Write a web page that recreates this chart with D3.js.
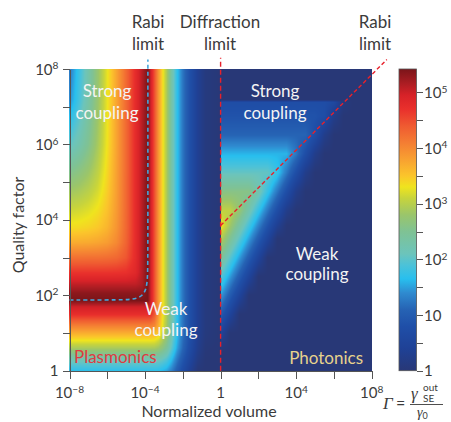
<!DOCTYPE html>
<meta charset="utf-8">
<title>Emission enhancement vs. mode volume and quality factor</title>
<script src="https://d3js.org/d3.v7.min.js"></script>
<style>
body { margin: 0; background: #fff; font-family: Lato, sans-serif; }
svg text { fill: #3b3b3b; }
.axis path, .axis line { stroke: #555; stroke-width: 1; shape-rendering: crispEdges; }
.lbl { font-size: 17px; }
.white { fill: #f4f4f4 !important; }
.tick-lbl { font-size: 15px; }
</style>
<body>
<svg id="vis" width="451" height="422"></svg>
<script>

// ---- data: log10(Gamma) ----
// plasmonic side (V < 1): columns = log10 V, rows = log10 Q
var plasV = [-8, -7.5, -7, -6.5, -6, -5.5, -5, -4.5, -4.15, -3.85, -3.7, -3.5, -3.3, -3.1, -2.85, -2.6, -2.3, -2, -1.6, -1.2, -0.8, 0];
var plasQ = [0, 0.3, 0.6, 0.9, 1.2, 1.5, 1.7, 1.86, 2.05, 2.3, 2.6, 3.0, 3.4, 3.8, 4.3, 4.8, 5.4, 6.0, 6.6, 7.2, 8];
var plasG = [
  [1.70,1.70,1.70,1.70,1.70,1.70,1.70,1.70,1.70,1.70, 1.70,1.70,1.68,1.62,1.52,1.32,1.00,0.71,0.35,0.02,0,0],
  [2.20,2.20,2.20,2.20,2.20,2.20,2.20,2.20,2.20,2.20, 2.20,2.19,2.16,2.09,1.94,1.66,1.26,0.92,0.52,0.16,0,0],
  [2.90,2.90,2.90,2.90,2.90,2.90,2.90,2.90,2.90,2.90, 2.90,2.89,2.82,2.68,2.44,2.03,1.52,1.12,0.67,0.27,0.03,0],
  [3.50,3.50,3.50,3.50,3.50,3.50,3.50,3.50,3.50,3.50, 3.50,3.47,3.34,3.09,2.73,2.21,1.64,1.20,0.74,0.32,0.08,0],
  [4.10,4.10,4.10,4.10,4.10,4.10,4.10,4.10,4.10,4.10, 4.10,4.02,3.73,3.33,2.87,2.30,1.69,1.24,0.77,0.35,0.10,0],
  [4.75,4.75,4.75,4.75,4.75,4.75,4.75,4.75,4.75,4.75, 4.73,4.42,3.91,3.41,2.92,2.32,1.70,1.25,0.77,0.35,0.10,0],
  [5.00,5.00,5.00,5.00,5.00,5.00,5.00,5.00,5.00,5.00, 4.92,4.46,3.92,3.42,2.92,2.32,1.70,1.25,0.77,0.35,0.10,0],
  [5.42,5.42,5.42,5.42,5.42,5.42,5.42,5.42,5.42,5.42, 5.00,4.47,3.92,3.42,2.92,2.32,1.70,1.25,0.77,0.35,0.10,0],
  [5.33,5.33,5.33,5.33,5.33,5.33,5.33,5.33,5.33,5.42, 5.00,4.47,3.92,3.42,2.92,2.32,1.70,1.25,0.77,0.35,0.10,0],
  [5.05,5.05,5.05,5.05,5.05,5.05,5.05,5.06,5.15,5.42, 5.00,4.47,3.92,3.42,2.92,2.32,1.70,1.25,0.77,0.35,0.10,0],
  [4.68,4.68,4.68,4.68,4.68,4.69,4.71,4.84,5.12,5.42, 5.00,4.47,3.92,3.42,2.92,2.32,1.70,1.25,0.77,0.35,0.10,0],
  [4.20,4.20,4.21,4.21,4.23,4.28,4.43,4.78,5.12,5.42, 5.00,4.47,3.92,3.42,2.92,2.32,1.70,1.25,0.77,0.35,0.10,0],
  [3.70,3.71,3.72,3.76,3.83,4.00,4.32,4.77,5.12,5.42, 5.00,4.47,3.92,3.42,2.92,2.32,1.70,1.25,0.77,0.35,0.10,0],
  [3.35,3.37,3.41,3.48,3.63,3.90,4.29,4.77,5.12,5.42, 5.00,4.47,3.92,3.42,2.92,2.32,1.70,1.25,0.77,0.35,0.10,0],
  [3.09,3.13,3.20,3.32,3.52,3.85,4.28,4.77,5.12,5.42, 5.00,4.47,3.92,3.42,2.92,2.32,1.70,1.25,0.77,0.35,0.10,0],
  [2.82,2.88,2.99,3.16,3.44,3.82,4.28,4.77,5.12,5.42, 5.00,4.47,3.92,3.42,2.92,2.32,1.70,1.25,0.77,0.35,0.10,0],
  [2.45,2.57,2.75,3.01,3.37,3.80,4.27,4.77,5.12,5.42, 5.00,4.47,3.92,3.42,2.92,2.32,1.70,1.25,0.77,0.35,0.10,0],
  [2.01,2.23,2.52,2.89,3.31,3.78,4.27,4.77,5.12,5.42, 5.00,4.47,3.92,3.42,2.92,2.32,1.70,1.25,0.77,0.35,0.10,0],
  [1.72,2.03,2.41,2.83,3.29,3.78,4.27,4.77,5.12,5.42, 5.00,4.47,3.92,3.42,2.92,2.32,1.70,1.25,0.77,0.35,0.10,0],
  [1.40,1.84,2.30,2.78,3.28,3.77,4.27,4.77,5.12,5.42, 5.00,4.47,3.92,3.42,2.92,2.32,1.70,1.25,0.77,0.35,0.10,0],
  [1.27,1.77,2.27,2.77,3.27,3.77,4.27,4.77,5.12,5.42, 5.00,4.47,3.92,3.42,2.92,2.32,1.70,1.25,0.77,0.35,0.10,0]
];

// photonic side (V >= 1)
var photV = [0, 0.5, 1, 1.5, 2, 2.5, 3, 3.5, 4, 4.5, 5, 5.5, 6, 6.5, 7, 7.5, 8];
var photQ = [0, 0.5, 1, 1.5, 2, 2.5, 3, 3.5, 3.85, 4.25, 4.75, 5.25, 5.75, 6.25, 6.75, 7.12, 7.18, 8];
var photG = [
  [0,0,0,0,0,0,0,0,0,0,0,0,0,0,0,0,0],
  [0,0,0,0,0,0,0,0,0,0,0,0,0,0,0,0,0],
  [0.5,0,0,0,0,0,0,0,0,0,0,0,0,0,0,0,0],
  [1.0,0.5,0,0,0,0,0,0,0,0,0,0,0,0,0,0,0],
  [1.5,1.0,0.5,0,0,0,0,0,0,0,0,0,0,0,0,0,0],
  [2.0,1.5,1.0,0.5,0,0,0,0,0,0,0,0,0,0,0,0,0],
  [2.5,2.0,1.5,1.0,0.5,0,0,0,0,0,0,0,0,0,0,0,0],
  [3.0,2.5,2.0,1.5,1.0,0.5,0,0,0,0,0,0,0,0,0,0,0],
  [3.35,2.85,2.35,1.85,1.35,0.85,0.35,0,0,0,0,0,0,0,0,0,0],
  [3.05,3.05,2.75,2.25,1.75,1.25,0.75,0.25,0,0,0,0,0,0,0,0,0],
  [2.6,2.6,2.6,2.6,2.25,1.75,1.25,0.75,0.25,0,0,0,0,0,0,0,0],
  [2.05,2.05,2.05,2.05,2.05,2.05,1.75,1.25,0.75,0.25,0,0,0,0,0,0,0],
  [1.6,1.6,1.6,1.6,1.6,1.6,1.6,1.6,1.25,0.75,0.25,0,0,0,0,0,0],
  [1.1,1.1,1.1,1.1,1.1,1.1,1.1,1.1,1.1,1.1,0.75,0.25,0,0,0,0,0],
  [0.85,0.85,0.85,0.85,0.85,0.85,0.85,0.85,0.85,0.85,0.85,0.75,0.25,0,0,0,0],
  [0.75,0.75,0.75,0.75,0.75,0.75,0.75,0.75,0.75,0.75,0.75,0.75,0.62,0.12,0,0,0],
  [0,0,0,0,0,0,0,0,0,0,0,0,0,0,0,0,0],
  [0,0,0,0,0,0,0,0,0,0,0,0,0,0,0,0,0]
];

// colour map (log10 Gamma -> colour)
var cmapVals = [0, 0.4, 0.8, 1.1, 1.4, 1.65, 1.9, 2.1, 2.5, 2.8, 3.1, 3.3, 3.5, 3.8, 4.1, 4.4, 4.7, 4.95, 5.15, 5.42];
var cmapCols = ["#283877", "#1f4196", "#1f4fa8", "#2663b4", "#2f8bd0", "#28bfee", "#4cc2d8", "#6cc4bb", "#7fc294",
                "#9ac56b", "#c7d43c", "#efe41e", "#fbc52b", "#f8a031", "#f47d33", "#ef5a31", "#e9302c", "#d72228", "#ae1d23", "#7a1519"];
var gammaMax = 5.42;

// limits
var rabiCurve = [[-8, 1.875], [-5.2, 1.875], [-4.4, 1.9], [-4.0, 2.05], [-3.87, 2.35], [-3.85, 2.9], [-3.85, 5], [-3.85, 8.25]];
var diffraction = [[0, 0], [0, 8.3]];
var rabiPhot = [[0, 3.85], [8.8, 8.25]];

var xTicks = [-8, -6, -4, -2, 0, 2, 4, 6, 8], xLabels = [-8, -4, 0, 4, 8];
var yTicks = [0, 1, 2, 3, 4, 5, 6, 7, 8], yLabels = [0, 2, 4, 6, 8];
var cTicks = [0, 0.5, 1, 1.5, 2, 2.5, 3, 3.5, 4, 4.5, 5], cLabels = [0, 1, 2, 3, 4, 5];

// ---- scales ----
var x = d3.scaleLinear().domain([-8, 8]).range([69.5, 371.7]);
var y = d3.scaleLinear().domain([0, 8]).range([370.7, 69]);
var cy = d3.scaleLinear().domain([0, gammaMax]).range([370.7, 69]);
var color = d3.scaleLinear().domain(cmapVals).range(cmapCols).interpolate(d3.interpolateRgb).clamp(true);

var svg = d3.select("#vis");

function lookup(xs, ys, grid, vx, vy) {
  var i = Math.max(0, Math.min(xs.length - 2, d3.bisectRight(xs, vx) - 1));
  var j = Math.max(0, Math.min(ys.length - 2, d3.bisectRight(ys, vy) - 1));
  var tx = Math.max(0, Math.min(1, (vx - xs[i]) / (xs[i + 1] - xs[i])));
  var ty = Math.max(0, Math.min(1, (vy - ys[j]) / (ys[j + 1] - ys[j])));
  var a = grid[j][i], b = grid[j][i + 1], c = grid[j + 1][i], d = grid[j + 1][i + 1];
  return (a * (1 - tx) + b * tx) * (1 - ty) + (c * (1 - tx) + d * tx) * ty;
}

// ---- heat map ----
var x0 = Math.floor(x(-8)), x1 = Math.round(x(8)), y0 = Math.round(y(8)), y1 = Math.round(y(0));
var pw = x1 - x0, ph = y1 - y0;
var canvas = document.createElement("canvas");
canvas.width = pw; canvas.height = ph;
var ctx = canvas.getContext("2d");
var img = ctx.createImageData(pw, ph);
for (var py = 0; py < ph; py++) {
  var q = y.invert(y0 + py + 0.5);
  for (var px = 0; px < pw; px++) {
    var v = x.invert(x0 + px + 0.5);
    var g = v < 0 ? lookup(plasV, plasQ, plasG, v, q) : lookup(photV, photQ, photG, v, q);
    var c = d3.rgb(color(g)), k = 4 * (py * pw + px);
    img.data[k] = c.r; img.data[k + 1] = c.g; img.data[k + 2] = c.b; img.data[k + 3] = 255;
  }
}
ctx.putImageData(img, 0, 0);
svg.append("image")
  .attr("x", x0).attr("y", y0).attr("width", pw).attr("height", ph)
  .attr("preserveAspectRatio", "none")
  .attr("href", canvas.toDataURL());

// ---- limit lines ----
var line = d3.line().x(function(d) { return x(d[0]); }).y(function(d) { return y(d[1]); });
svg.append("path").datum(rabiCurve)
  .attr("d", line.curve(d3.curveBasis))
  .attr("fill", "none").attr("stroke", "#45a6dc").attr("stroke-width", 1.6).attr("stroke-dasharray", "4,3");
line.curve(d3.curveLinear);
svg.append("path").datum(diffraction)
  .attr("d", line).attr("fill", "none").attr("stroke", "#e8212b").attr("stroke-width", 1.4).attr("stroke-dasharray", "5,3");
svg.append("path").datum(rabiPhot)
  .attr("d", line).attr("fill", "none").attr("stroke", "#e8212b").attr("stroke-width", 1.4).attr("stroke-dasharray", "4,2.5");

// ---- axes ----
function powLabel(sel, e) {
  if (e === 0) { sel.text("1"); return; }
  if (e === 1) { sel.text("10"); return; }
  sel.text("10");
  sel.append("tspan").attr("dy", "-0.52em").attr("font-size", "0.68em").text(e < 0 ? "\u2212" + (-e) : e);
}

svg.append("g").attr("class", "axis").attr("transform", "translate(0," + y(0) + ")")
  .call(d3.axisBottom(x).tickValues(xTicks).tickSize(8).tickSizeOuter(0).tickFormat(""));
svg.append("g").attr("class", "axis").attr("transform", "translate(" + x(-8) + ",0)")
  .call(d3.axisLeft(y).tickValues(yTicks).tickSize(7).tickSizeOuter(0).tickFormat(""));

svg.selectAll(".xl").data(xLabels).enter().append("text")
  .attr("class", "tick-lbl").attr("x", function(d) { return x(d); }).attr("y", 398)
  .attr("text-anchor", "middle").each(function(d) { powLabel(d3.select(this), d); });
svg.selectAll(".yl").data(yLabels).enter().append("text")
  .attr("class", "tick-lbl").attr("x", 58.5).attr("y", function(d) { return y(d) + 5.5; })
  .attr("text-anchor", "end").each(function(d) { powLabel(d3.select(this), d); });

svg.append("text").attr("x", 209).attr("y", 417).attr("text-anchor", "middle")
  .style("font-size", "16px").text("Normalized volume");
svg.append("text").attr("transform", "translate(24,225) rotate(-90)").attr("text-anchor", "middle")
  .style("font-size", "16px").text("Quality factor");

// ---- colour bar ----
var grad = svg.append("defs").append("linearGradient").attr("id", "cbar")
  .attr("x1", 0).attr("y1", 1).attr("x2", 0).attr("y2", 0);
grad.selectAll("stop").data(cmapVals).enter().append("stop")
  .attr("offset", function(d) { return d / gammaMax; })
  .attr("stop-color", function(d, i) { return cmapCols[i]; });
svg.append("rect").attr("x", 399).attr("y", cy(gammaMax)).attr("width", 17.5).attr("height", cy(0) - cy(gammaMax))
  .attr("fill", "url(#cbar)").attr("stroke", "#555").attr("stroke-width", 0.8);
svg.append("g").attr("class", "axis").attr("transform", "translate(416.5,0)")
  .call(d3.axisRight(cy).tickValues(cTicks).tickSize(6).tickSizeOuter(0).tickFormat(""))
  .select(".domain").remove();
svg.selectAll(".cl").data(cLabels).enter().append("text")
  .attr("class", "tick-lbl").attr("x", 424).attr("y", function(d) { return cy(d) + 5.5; })
  .each(function(d) { powLabel(d3.select(this), d); });

// Gamma = gamma_SE^out / gamma_0
var serif = "'Liberation Serif', 'DejaVu Serif', serif";
svg.append("text").attr("x", 383).attr("y", 409).style("font-family", serif).style("font-style", "italic")
  .style("font-size", "17px").text("\u0393");
svg.append("text").attr("x", 396).attr("y", 409).style("font-size", "16px").text("=");
svg.append("line").attr("x1", 410).attr("x2", 443).attr("y1", 404.5).attr("y2", 404.5)
  .attr("stroke", "#3b3b3b").attr("stroke-width", 0.9);
svg.append("text").attr("x", 411).attr("y", 399).style("font-family", serif).style("font-style", "italic")
  .style("font-size", "17px").text("\u03b3");
svg.append("text").attr("x", 423).attr("y", 391).style("font-size", "10px").text("out");
svg.append("text").attr("x", 423).attr("y", 402).style("font-size", "10px").text("SE");
var den = svg.append("text").attr("x", 417).attr("y", 416.5).style("font-family", serif).style("font-style", "italic")
  .style("font-size", "14px").text("\u03b3");
den.append("tspan").attr("dy", 2).style("font-family", "Lato").style("font-style", "normal").style("font-size", "9px").text("0");

// ---- annotations ----
function twoLine(cx, y1, y2, a, b, cls) {
  var t = svg.append("text").attr("class", "lbl " + (cls || "")).attr("text-anchor", "middle");
  t.append("tspan").attr("x", cx).attr("y", y1).text(a);
  t.append("tspan").attr("x", cx).attr("y", y2).text(b);
}
twoLine(148, 28, 50, "Rabi", "limit");
twoLine(220, 28, 50, "Diffraction", "limit");
twoLine(375, 28, 50, "Rabi", "limit");
twoLine(107, 97, 119, "Strong", "coupling", "white");
twoLine(275, 97, 119, "Strong", "coupling", "white");
twoLine(166, 315, 336, "Weak", "coupling", "white");
twoLine(317, 260, 280, "Weak", "coupling", "white");
svg.append("text").attr("class", "lbl").attr("x", 74).attr("y", 363).style("fill", "#e03a40").text("Plasmonics");
svg.append("text").attr("class", "lbl").attr("x", 363).attr("y", 364).attr("text-anchor", "end")
  .style("fill", "#e7d28c").text("Photonics");

</script>
</body>
